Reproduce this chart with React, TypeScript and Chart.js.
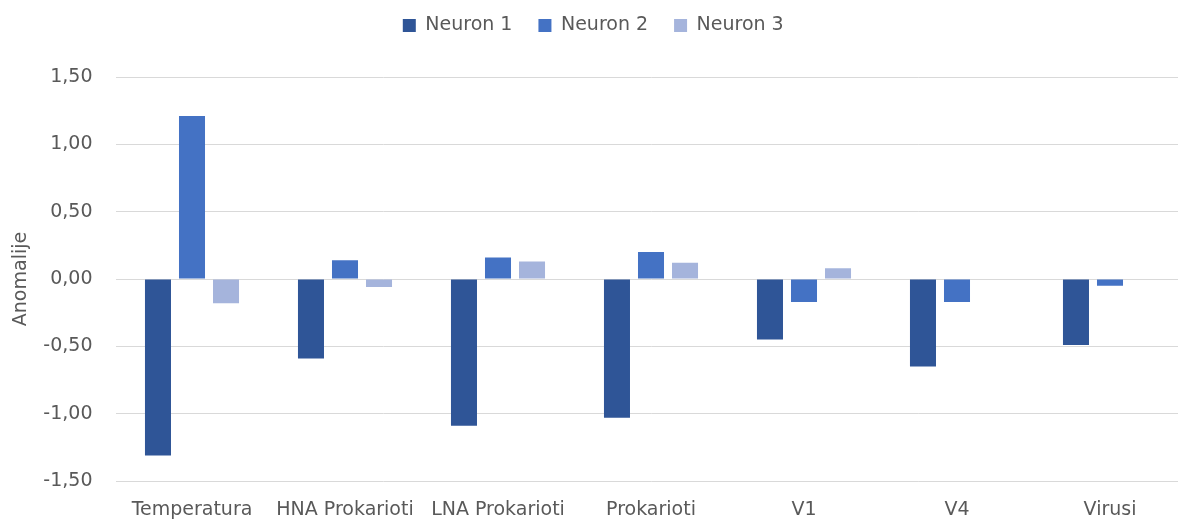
import React, { useEffect, useRef } from "react";
import { Chart, registerables } from "chart.js";

Chart.register(...registerables);

const CATEGORIES = ["Temperatura", "HNA Prokarioti", "LNA Prokarioti", "Prokarioti", "V1", "V4", "Virusi"];
const NEURON_1 = [-1.31, -0.59, -1.09, -1.03, -0.45, -0.65, -0.49];
const NEURON_2 = [1.21, 0.14, 0.16, 0.2, -0.17, -0.17, -0.05];
const NEURON_3 = [-0.18, -0.06, 0.13, 0.12, 0.08, 0, 0];
const SERIES_NAMES = ["Neuron 1", "Neuron 2", "Neuron 3"];
const Y_TICKS = [-1.5, -1.0, -0.5, 0, 0.5, 1.0, 1.5];
const Y_TITLE = "Anomalije";

const COLORS = ["#2F5597", "#4472C4", "#A5B4DC"];
const TEXT = "#595959";
const GRID = "#D9D9D9";
const FONT = "'DejaVu Sans', sans-serif";

export default function App() {
  const ref = useRef<HTMLCanvasElement | null>(null);

  useEffect(() => {
    document.body.style.overflow = "hidden";
    const legendFix = {
      id: "legendFix",
      beforeLayout(chart: any) {
        const lg = chart.legend;
        if (lg && !lg._patched) {
          const orig = lg.fit.bind(lg);
          lg.fit = function () {
            orig();
            this.height = 87;
          };
          lg._patched = true;
        }
      },
    };
    const chart = new Chart(ref.current as HTMLCanvasElement, {
      type: "bar",
      data: {
        labels: CATEGORIES,
        datasets: [NEURON_1, NEURON_2, NEURON_3].map((d, i) => ({
          label: SERIES_NAMES[i],
          data: d,
          backgroundColor: COLORS[i],
          borderWidth: 0,
          categoryPercentage: 0.667,
          barPercentage: 0.765,
        })),
      },
      plugins: [legendFix],
      options: {
        animation: false,
        responsive: true,
        maintainAspectRatio: false,
        layout: { padding: { top: -10, left: 0, right: 9.5, bottom: 0 } },
        plugins: {
          legend: {
            position: "top",
            labels: {
              boxWidth: 13,
              boxHeight: 13,
              padding: 26,
              color: TEXT,
              font: { family: FONT, size: 19 },
            },
          },
          tooltip: { enabled: false },
        },
        scales: {
          x: {
            grid: { display: false, drawTicks: false },
            border: { display: false },
            ticks: {
              color: TEXT,
              font: { family: FONT, size: 19 },
              padding: 18,
              maxRotation: 0,
              autoSkip: false,
            },
            afterFit(scale: any) {
              scale.height = 38;
            },
          },
          y: {
            min: -1.5,
            max: 1.5,
            afterBuildTicks(scale: any) {
              scale.ticks = Y_TICKS.map((v) => ({ value: v }));
            },
            grid: { color: GRID, lineWidth: 1, drawTicks: false },
            border: { display: false },
            ticks: {
              color: TEXT,
              font: { family: FONT, size: 19 },
              padding: 23,
              callback: (v: any) => Number(v).toFixed(2).replace(".", ","),
            },
            title: {
              display: true,
              text: Y_TITLE,
              color: TEXT,
              font: { family: FONT, size: 19 },
              padding: { top: 10, bottom: 0 },
            },
            afterFit(scale: any) {
              scale.width = 115.5;
            },
          },
        },
      },
    });
    return () => chart.destroy();
  }, []);

  return (
    <div style={{ position: "fixed", left: 0, top: 0, width: 1196, height: 519, background: "#fff" }}>
      <canvas ref={ref} />
    </div>
  );
}
